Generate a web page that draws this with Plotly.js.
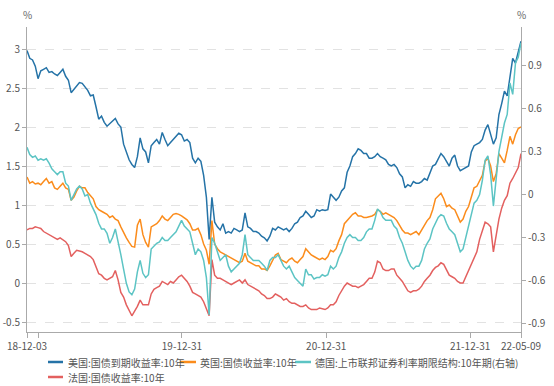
<!DOCTYPE html>
<html>
<head>
<meta charset="utf-8">
<script src="https://cdn.plot.ly/plotly-3.0.1.min.js"></script>
<style>html,body{margin:0;padding:0;background:#fff;}#chart{width:554px;height:386px;}</style>
</head>
<body>
<div id="chart"></div>
<script>
// Weekly observations (Mondays), 2018-12-03 .. 2022-05-09
const startDate = '2018-12-03';
const weekCount = 180;

const seriesNames = [
  '美国:国债到期收益率:10年',
  '英国:国债收益率:10年',
  '德国:上市联邦证券利率期限结构:10年期(右轴)',
  '法国:国债收益率:10年'
];

const usYield = [
  2.98, 2.88, 2.86, 2.78, 2.62, 2.72, 2.74, 2.76, 2.70, 2.71,
  2.68, 2.66, 2.70, 2.74, 2.65, 2.60, 2.44, 2.48, 2.52, 2.57,
  2.56, 2.52, 2.47, 2.40, 2.41, 2.26, 2.10, 2.14, 2.06, 2.01,
  2.04, 2.07, 2.11, 2.04, 2.00, 1.78, 1.68, 1.58, 1.52, 1.48,
  1.62, 1.86, 1.72, 1.68, 1.54, 1.76, 1.80, 1.84, 1.78, 1.93,
  1.84, 1.76, 1.80, 1.84, 1.88, 1.92, 1.90, 1.82, 1.84, 1.80,
  1.60, 1.54, 1.60, 1.56, 1.38, 1.10, 0.56, 1.10, 0.78, 0.72,
  0.68, 0.76, 0.64, 0.66, 0.64, 0.70, 0.68, 0.66, 0.68, 0.90,
  0.72, 0.70, 0.66, 0.66, 0.64, 0.60, 0.58, 0.54, 0.60, 0.70,
  0.68, 0.72, 0.70, 0.68, 0.70, 0.66, 0.70, 0.76, 0.78, 0.84,
  0.86, 0.92, 0.88, 0.84, 0.86, 0.94, 0.92, 0.94, 0.93, 0.94,
  1.14, 1.10, 1.06, 1.10, 1.18, 1.22, 1.42, 1.50, 1.62, 1.66,
  1.72, 1.70, 1.66, 1.66, 1.60, 1.60, 1.62, 1.66, 1.62, 1.60,
  1.58, 1.52, 1.50, 1.52, 1.48, 1.40, 1.36, 1.22, 1.26, 1.24,
  1.30, 1.28, 1.28, 1.30, 1.34, 1.32, 1.40, 1.50, 1.52, 1.60,
  1.66, 1.62, 1.56, 1.50, 1.60, 1.64, 1.50, 1.44, 1.46, 1.48,
  1.50, 1.68, 1.76, 1.78, 1.80, 1.84, 1.96, 2.03, 1.92, 1.78,
  1.86, 2.16, 2.30, 2.46, 2.40, 2.62, 2.88, 2.82, 2.96, 3.10
];

const ukYield = [
  1.36, 1.28, 1.30, 1.27, 1.28, 1.26, 1.30, 1.34, 1.28, 1.30,
  1.22, 1.20, 1.24, 1.28, 1.22, 1.20, 1.06, 1.10, 1.18, 1.24,
  1.22, 1.22, 1.16, 1.12, 1.08, 0.98, 0.94, 0.92, 0.90, 0.88,
  0.84, 0.86, 0.82, 0.80, 0.72, 0.64, 0.58, 0.52, 0.47, 0.46,
  0.74, 0.82, 0.62, 0.52, 0.46, 0.72, 0.74, 0.76, 0.80, 0.86,
  0.82, 0.80, 0.84, 0.88, 0.89, 0.88, 0.86, 0.84, 0.81, 0.76,
  0.68, 0.68, 0.70, 0.62, 0.50, 0.42, 0.24, 0.80, 0.50, 0.44,
  0.40, 0.38, 0.36, 0.34, 0.32, 0.30, 0.28, 0.26, 0.28, 0.38,
  0.28, 0.26, 0.24, 0.22, 0.22, 0.18, 0.18, 0.16, 0.22, 0.30,
  0.36, 0.38, 0.30, 0.28, 0.26, 0.30, 0.32, 0.28, 0.26, 0.30,
  0.34, 0.44, 0.40, 0.36, 0.34, 0.32, 0.30, 0.32, 0.30, 0.34,
  0.42, 0.40, 0.44, 0.54, 0.62, 0.76, 0.80, 0.84, 0.88, 0.90,
  0.86, 0.86, 0.84, 0.84, 0.85, 0.86, 0.88, 0.94, 0.92, 0.88,
  0.90, 0.88, 0.86, 0.84, 0.80, 0.74, 0.68, 0.64, 0.64, 0.62,
  0.64, 0.66, 0.62, 0.68, 0.73, 0.80, 0.84, 0.94, 1.08, 1.12,
  1.15, 1.08, 0.98, 1.00, 0.96, 0.94, 0.86, 0.78, 0.82, 0.92,
  0.98, 1.10, 1.22, 1.24, 1.32, 1.38, 1.56, 1.60, 1.50, 1.30,
  1.40, 1.66, 1.60, 1.54, 1.70, 1.88, 1.78, 1.90, 1.98, 2.00
];

const deYield = [
  0.33, 0.28, 0.26, 0.27, 0.24, 0.25, 0.24, 0.25, 0.22, 0.18,
  0.16, 0.14, 0.16, 0.16, 0.08, 0.06, -0.04, 0.00, 0.04, 0.06,
  0.04, -0.01, 0.00, -0.06, -0.10, -0.14, -0.20, -0.24, -0.24, -0.27,
  -0.34, -0.30, -0.24, -0.32, -0.42, -0.52, -0.62, -0.68, -0.70, -0.66,
  -0.54, -0.46, -0.55, -0.58, -0.56, -0.38, -0.36, -0.34, -0.33, -0.30,
  -0.32, -0.32, -0.30, -0.28, -0.26, -0.22, -0.18, -0.22, -0.24, -0.26,
  -0.34, -0.42, -0.38, -0.40, -0.46, -0.58, -0.84, -0.30, -0.34, -0.40,
  -0.46, -0.44, -0.42, -0.50, -0.54, -0.52, -0.50, -0.48, -0.42, -0.28,
  -0.42, -0.44, -0.46, -0.46, -0.46, -0.48, -0.50, -0.53, -0.46, -0.44,
  -0.44, -0.42, -0.46, -0.50, -0.52, -0.50, -0.54, -0.58, -0.60, -0.62,
  -0.64, -0.52, -0.56, -0.56, -0.59, -0.58, -0.58, -0.56, -0.57, -0.56,
  -0.50, -0.52, -0.50, -0.44, -0.40, -0.34, -0.30, -0.28, -0.30, -0.30,
  -0.32, -0.32, -0.30, -0.26, -0.24, -0.24, -0.18, -0.10, -0.12, -0.16,
  -0.18, -0.18, -0.18, -0.22, -0.24, -0.30, -0.34, -0.40, -0.46, -0.50,
  -0.52, -0.50, -0.50, -0.46, -0.38, -0.34, -0.31, -0.24, -0.20, -0.16,
  -0.14, -0.15, -0.20, -0.24, -0.26, -0.28, -0.34, -0.40, -0.38, -0.30,
  -0.22, -0.12, -0.06, -0.04, 0.00, 0.10, 0.24, 0.27, 0.14, -0.08,
  0.10, 0.30, 0.40, 0.50, 0.56, 0.78, 0.70, 0.92, 0.96, 1.06
];

const frYield = [
  0.68, 0.70, 0.70, 0.72, 0.71, 0.70, 0.66, 0.64, 0.62, 0.60,
  0.58, 0.56, 0.58, 0.56, 0.53, 0.48, 0.34, 0.38, 0.42, 0.41,
  0.40, 0.38, 0.36, 0.34, 0.30, 0.22, 0.12, 0.10, 0.06, 0.04,
  0.06, 0.08, 0.16, 0.04, -0.12, -0.18, -0.28, -0.36, -0.42, -0.36,
  -0.30, -0.22, -0.28, -0.28, -0.28, -0.14, -0.08, -0.06, -0.04, 0.02,
  0.00, -0.02, 0.02, 0.00, 0.04, 0.08, 0.10, 0.06, 0.02, -0.04,
  -0.12, -0.14, -0.16, -0.18, -0.24, -0.32, -0.42, 0.30, 0.10, 0.06,
  0.06, 0.04, 0.02, 0.00, -0.02, 0.00, 0.02, 0.04, 0.00, 0.04,
  -0.02, -0.04, -0.06, -0.08, -0.10, -0.14, -0.16, -0.20, -0.20, -0.18,
  -0.14, -0.16, -0.18, -0.22, -0.20, -0.24, -0.26, -0.26, -0.28, -0.30,
  -0.30, -0.28, -0.32, -0.34, -0.34, -0.34, -0.32, -0.33, -0.34, -0.32,
  -0.28, -0.28, -0.24, -0.16, -0.10, -0.04, 0.00, -0.02, -0.04, -0.04,
  -0.06, -0.04, -0.02, 0.02, 0.06, 0.06, 0.14, 0.28, 0.26, 0.18,
  0.16, 0.16, 0.18, 0.18, 0.10, 0.06, 0.02, -0.04, -0.10, -0.12,
  -0.10, -0.10, -0.08, -0.04, 0.02, 0.06, 0.10, 0.16, 0.20, 0.22,
  0.26, 0.24, 0.16, 0.10, 0.08, 0.06, 0.02, 0.00, 0.00, 0.08,
  0.16, 0.26, 0.34, 0.40, 0.56, 0.66, 0.78, 0.76, 0.72, 0.40,
  0.62, 0.82, 0.96, 1.06, 1.12, 1.28, 1.34, 1.42, 1.48, 1.66
];

const xTickVals = ['2018-12-03', '2018-12-31', '2019-12-31', '2020-12-31', '2021-12-31', '2022-05-09'];
const xTickText = ['18-12-03', '', '19-12-31', '20-12-31', '21-12-31', '22-05-09'];
const yLeftTicks = [-0.5, 0, 0.5, 1, 1.5, 2, 2.5, 3];
const yLeftText = ['-0.5', '0', '0.5', '1', '1.5', '2', '2.5', '3'];
const yRightTicks = [-0.9, -0.6, -0.3, 0, 0.3, 0.6, 0.9];
const yRightText = ['-0.9', '-0.6', '-0.3', '0', '0.3', '0.6', '0.9'];

const colors = ['#2573a7', '#fb8c1c', '#5cc4c4', '#e3605f'];

// weekly date axis
const dates = [];
const t0 = Date.parse(startDate + 'T00:00:00Z');
for (let k = 0; k < weekCount; k++) {
  dates.push(new Date(t0 + k * 7 * 86400000).toISOString().slice(0, 10));
}

const seriesData = [usYield, ukYield, deYield, frYield];
const axesFor = ['y', 'y', 'y2', 'y'];
const traces = seriesData.map((vals, i) => ({
  type: 'scatter', mode: 'lines', x: dates, y: vals, name: seriesNames[i],
  yaxis: axesFor[i], line: {color: colors[i], width: 1.5}, showlegend: false,
  hoverinfo: 'skip'
}));

// plot area in pixels: left 27, right 521, top 27, bottom 332
const W = 554, H = 386, L = 27, R = 33, T = 27, B = 54;
const pw = W - L - R, ph = H - T - B;
const px = x => (x - L) / pw;
const py = y => (H - B - y) / ph;

const legendItems = [
  {line: [48, 63], text: 67, y: 362},
  {line: [180, 196], text: 199, y: 362},
  {line: [295, 311], text: 314, y: 362},
  {line: [48, 63], text: 67, y: 377}
];
const shapes = legendItems.map((it, i) => ({
  type: 'line', xref: 'paper', yref: 'paper',
  x0: px(it.line[0]), x1: px(it.line[1]), y0: py(it.y), y1: py(it.y),
  line: {color: colors[i], width: 2.5}
}));
const annotations = legendItems.map((it, i) => ({
  xref: 'paper', yref: 'paper', x: px(it.text), y: py(it.y),
  xanchor: 'left', yanchor: 'middle', showarrow: false, text: seriesNames[i],
  borderpad: 0,
  font: {size: 10, color: '#555', family: 'Noto Sans CJK SC, sans-serif'}
}));
annotations.push({xref: 'paper', yref: 'paper', x: 0, y: py(14), xanchor: 'center', yanchor: 'middle',
  showarrow: false, text: '%', font: {size: 10, color: '#666'}});
annotations.push({xref: 'paper', yref: 'paper', x: 1, y: py(14), xanchor: 'center', yanchor: 'middle',
  showarrow: false, text: '%', font: {size: 10, color: '#666'}});

const tickFont = {size: 10, color: '#555', family: 'Noto Sans CJK SC, Noto Sans, sans-serif'};
const layout = {
  width: W, height: H,
  margin: {l: L, r: R, t: T, b: B, pad: 0},
  paper_bgcolor: '#fff', plot_bgcolor: '#fff',
  font: {family: 'Noto Sans CJK SC, Noto Sans, sans-serif', color: '#555'},
  showlegend: false,
  xaxis: {
    type: 'date', range: ['2018-12-03', '2022-05-09'],
    tickmode: 'array', tickvals: xTickVals, ticktext: xTickText,
    ticks: 'outside', ticklen: 5, tickcolor: '#aaa', tickfont: tickFont,
    showline: true, linecolor: '#aaa', linewidth: 1, showgrid: false, zeroline: false
  },
  yaxis: {
    range: [-0.628, 3.282], tickmode: 'array', tickvals: yLeftTicks, ticktext: yLeftText,
    ticks: 'outside', ticklen: 4, tickcolor: '#aaa', tickfont: tickFont,
    showline: true, linecolor: '#aaa', linewidth: 1,
    showgrid: true, gridcolor: '#e2e2e2', griddash: 'dash', gridwidth: 1, zeroline: false
  },
  yaxis2: {
    overlaying: 'y', side: 'right',
    range: [-0.96, 1.171], tickmode: 'array', tickvals: yRightTicks, ticktext: yRightText,
    ticks: 'outside', ticklen: 4, tickcolor: '#aaa', tickfont: tickFont,
    showline: true, linecolor: '#aaa', linewidth: 1, showgrid: false, zeroline: false
  },
  shapes: shapes,
  annotations: annotations
};

Plotly.newPlot('chart', traces, layout, {staticPlot: true, displayModeBar: false});
</script>
</body>
</html>
